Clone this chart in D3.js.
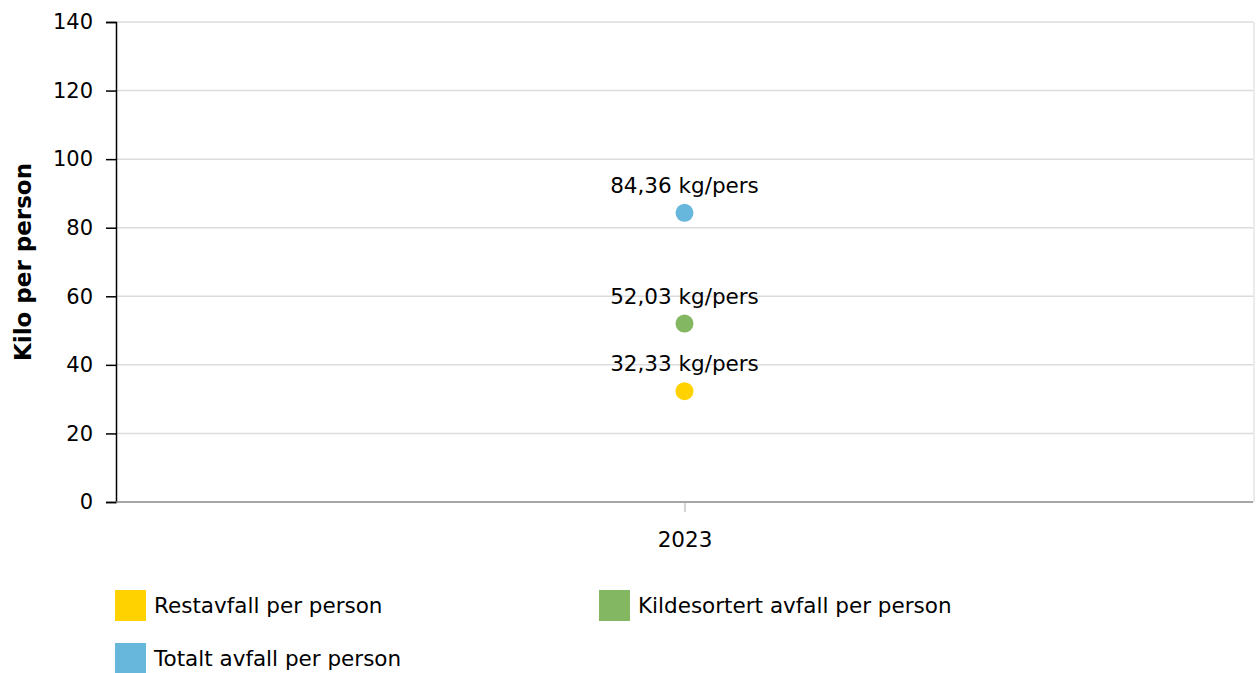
<!DOCTYPE html>
<html>
<head>
<meta charset="utf-8">
<script src="https://cdn.jsdelivr.net/npm/d3@7"></script>
<style>
  body { margin: 0; background: #fff; }
  svg { font-family: Verdana, "DejaVu Sans", sans-serif; }
</style>
</head>
<body>
<div id="vis"></div>
<script>
// data
let years = ['2023'];
let seriesNames = ['Restavfall per person', 'Kildesortert avfall per person', 'Totalt avfall per person'];
let seriesColors = ['#ffd200', '#84b761', '#67b7dc'];
let seriesValues = [[32.33], [52.03], [84.36]];
let yTicks = [0, 20, 40, 60, 80, 100, 120, 140];

let width = 1256;
let height = 673;
let margin = { top: 22, left: 116, bottom: 171, right: 3 };
let innerW = width - margin.left - margin.right;
let innerH = height - margin.top - margin.bottom;
let fontSize = 21.5;

let svg = d3.select('#vis').append('svg')
  .attr('width', width)
  .attr('height', height);

let g = svg.append('g')
  .attr('transform', 'translate(' + margin.left + ',' + margin.top + ')');

let x = d3.scalePoint()
  .domain(years)
  .range([0, innerW])
  .padding(0.5);

let y = d3.scaleLinear()
  .domain([0, 140])
  .range([innerH, 0]);

// grid
g.selectAll('.grid')
  .data(yTicks.filter(d => d > 0))
  .enter().append('line')
  .attr('class', 'grid')
  .attr('x1', 0).attr('x2', innerW)
  .attr('y1', d => y(d)).attr('y2', d => y(d))
  .attr('stroke', '#dcdcdc')
  .attr('stroke-width', 1.5);

// right border
g.append('line')
  .attr('x1', innerW + 1).attr('x2', innerW + 1)
  .attr('y1', 0).attr('y2', innerH)
  .attr('stroke', '#e4e4e4')
  .attr('stroke-width', 1.5);

// y axis
let yAxis = g.append('g')
  .call(d3.axisLeft(y).tickValues(yTicks).tickSize(10).tickPadding(13));
yAxis.select('.domain').attr('stroke', '#000').attr('stroke-width', 1.5);
yAxis.selectAll('.tick line').attr('stroke', '#000').attr('stroke-width', 1.5);
yAxis.selectAll('.tick text').attr('font-size', 21).attr('fill', '#000')
  .style('font-family', 'Verdana, "DejaVu Sans", sans-serif');

// x axis
let xAxis = g.append('g')
  .attr('transform', 'translate(0,' + innerH + ')')
  .call(d3.axisBottom(x).tickSize(10).tickPadding(20));
xAxis.select('.domain').attr('stroke', '#888').attr('stroke-width', 1.5)
  .attr('d', 'M0,0H' + innerW);
xAxis.selectAll('.tick line').attr('stroke', '#aaa').attr('stroke-width', 1);
xAxis.selectAll('.tick text').attr('font-size', fontSize).attr('fill', '#000')
  .style('font-family', 'Verdana, "DejaVu Sans", sans-serif');

// y title
svg.append('text')
  .attr('transform', 'translate(31,' + (margin.top + innerH / 2) + ') rotate(-90)')
  .attr('text-anchor', 'middle')
  .attr('font-size', 23)
  .attr('font-weight', 'bold')
  .text('Kilo per person');

// points and labels
seriesNames.forEach(function (name, i) {
  let pts = g.selectAll('.pt-' + i)
    .data(seriesValues[i])
    .enter();
  pts.append('circle')
    .attr('cx', (d, j) => x(years[j]))
    .attr('cy', d => y(d))
    .attr('r', 9)
    .attr('fill', seriesColors[i]);
  pts.append('text')
    .attr('x', (d, j) => x(years[j]))
    .attr('y', d => y(d) - 20)
    .attr('text-anchor', 'middle')
    .attr('font-size', fontSize)
    .text(d => d.toFixed(2).replace('.', ',') + ' kg/pers');
});

// legend
let legendPos = [[115, 590], [599, 590], [115, 643]];
let legend = svg.selectAll('.legend')
  .data(seriesNames)
  .enter().append('g')
  .attr('class', 'legend')
  .attr('transform', (d, i) => 'translate(' + legendPos[i][0] + ',' + legendPos[i][1] + ')');
legend.append('rect')
  .attr('width', 31).attr('height', 31)
  .attr('fill', (d, i) => seriesColors[i]);
legend.append('text')
  .attr('x', 39).attr('y', 23)
  .attr('font-size', fontSize)
  .text(d => d);
</script>
</body>
</html>
